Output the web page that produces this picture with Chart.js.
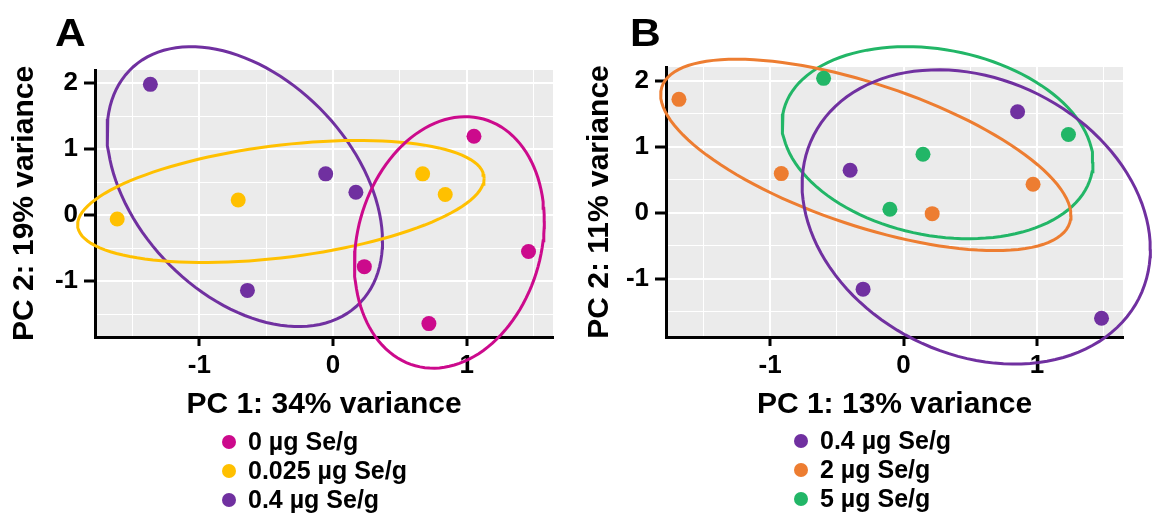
<!DOCTYPE html>
<html>
<head>
<meta charset="utf-8">
<script src="https://cdn.jsdelivr.net/npm/chart.js@4.4.0/dist/chart.umd.min.js"></script>
<style>
  body { margin: 0; background: #fff; width: 1156px; height: 514px; position: relative; overflow: hidden;
         font-family: "Liberation Sans", Arial, Helvetica, sans-serif; }
  .panel { position: absolute; top: 0; width: 578px; height: 514px; }
  .letter { position: absolute; top: 14px; font-weight: bold; font-size: 38px; line-height: 38px;
            transform: scaleX(1.12); transform-origin: left top; }
  .legend { position: absolute; font-weight: bold; font-size: 25px; }
  .legend .row { height: 29px; display: flex; align-items: center; white-space: nowrap; }
  .legend .dot { width: 14px; height: 14px; border-radius: 50%; margin-right: 12px; flex: none; }
</style>
</head>
<body>
<div class="panel" style="left:0"><canvas id="pcaA" width="578" height="514"></canvas></div>
<div class="panel" style="left:578px"><canvas id="pcaB" width="578" height="514"></canvas></div>
<div class="letter" style="left:55px">A</div>
<div class="letter" style="left:630px">B</div>
<div class="legend" id="legendA" style="left:222px; top:427px"></div>
<div class="legend" id="legendB" style="left:794px; top:426px"></div>
<script>
// panel A: 0 / 0.025 / 0.4 ug Se/g
const groupsA = ["0 µg Se/g", "0.025 µg Se/g", "0.4 µg Se/g"];
const pc1A = [
  [1.054, 1.462, 0.234, 0.717],
  [-1.614, -0.709, 0.670, 0.839],
  [-1.366, -0.055, 0.171, -0.640]
];
const pc2A = [
  [1.193, -0.553, -0.782, -1.645],
  [-0.060, 0.228, 0.624, 0.310],
  [1.980, 0.624, 0.345, -1.142]
];
// ellipse extents: [min, max] on each axis, plus tilt (cos of phase shift)
const ellXA = [[0.16, 1.58], [-1.91, 1.13], [-1.69, 0.37]];
const ellYA = [[-2.32, 1.49], [-0.72, 1.13], [-1.69, 2.55]];
const ellTiltA = [0.17, 0.38, -0.39];

// panel B: 0.4 / 2 / 5 ug Se/g
const groupsB = ["0.4 µg Se/g", "2 µg Se/g", "5 µg Se/g"];
const pc1B = [
  [-0.400, 0.855, -0.303, 1.484],
  [-1.683, -0.916, 0.215, 0.971],
  [-0.599, 0.146, -0.102, 1.236]
];
const pc2B = [
  [0.648, 1.534, -1.154, -1.595],
  [1.722, 0.597, -0.010, 0.435],
  [2.040, 0.891, 0.056, 1.190]
];
const ellXB = [[-0.76, 1.85], [-1.82, 1.255], [-0.91, 1.42]];
const ellYB = [[-2.29, 2.17], [-0.57, 2.33], [-0.39, 2.52]];
const ellTiltB = [-0.22, -0.63, -0.20];

const xGrid = [-1.5, -1, -0.5, 0, 0.5, 1, 1.5];
const yGrid = [-1.5, -1, -0.5, 0, 0.5, 1, 1.5, 2];

const colorsA = ["#CC0A8C", "#FFC000", "#7030A0"];
const colorsB = ["#7030A0", "#ED7D31", "#22B667"];

const FONT = '"Liberation Sans", Arial, Helvetica, sans-serif';
Chart.defaults.font.family = FONT;
Chart.defaults.color = "#000";

const panelBg = {
  id: "panelBg",
  beforeDraw(chart) {
    const { ctx, chartArea } = chart;
    ctx.save();
    ctx.fillStyle = "#EBEBEB";
    ctx.fillRect(chartArea.left, chartArea.top, chartArea.width, chartArea.height);
    ctx.restore();
  }
};

function ellipsePath(xr, yr, tilt) {
  const cx = (xr[0] + xr[1]) / 2, a = (xr[1] - xr[0]) / 2;
  const cy = (yr[0] + yr[1]) / 2, b = (yr[1] - yr[0]) / 2;
  const d = Math.acos(tilt);
  const pts = [];
  for (let i = 0; i <= 120; i++) {
    const t = (i / 120) * 2 * Math.PI;
    pts.push({ x: cx + a * Math.cos(t), y: cy + b * Math.cos(t - d) });
  }
  return pts;
}

function isMajor(v) { return Number.isInteger(v); }

function gridOpts(tickLen) {
  return {
    color: "#fff",
    lineWidth: (c) => (isMajor(c.tick.value) ? 2 : 1),
    tickLength: tickLen,
    tickWidth: 3,
    tickColor: (c) => (isMajor(c.tick.value) ? "#000" : "rgba(0,0,0,0)")
  };
}

function makePanel(id, cfg) {
  const datasets = [];
  cfg.groups.forEach((g, i) => {
    datasets.push({
      label: g,
      data: cfg.pc1[i].map((x, j) => ({ x: x, y: cfg.pc2[i][j] })),
      backgroundColor: cfg.colors[i],
      borderWidth: 0,
      pointRadius: 7.5,
      order: 0
    });
  });
  cfg.groups.forEach((g, i) => {
    datasets.push({
      label: g + " ellipse",
      data: ellipsePath(cfg.ellX[i], cfg.ellY[i], cfg.ellTilt[i]),
      showLine: true,
      pointRadius: 0,
      borderColor: cfg.colors[i],
      borderWidth: 3,
      fill: false,
      clip: false,
      order: 1
    });
  });

  const tickFont = { size: 26, weight: "bold" };
  const titleFont = { size: 30, weight: "bold" };

  new Chart(document.getElementById(id), {
    type: "scatter",
    data: { datasets: datasets },
    plugins: [panelBg],
    options: {
      responsive: false,
      animation: false,
      layout: { padding: { left: 0, top: cfg.top, right: cfg.right, bottom: 0 } },
      plugins: { legend: { display: false }, tooltip: { enabled: false } },
      scales: {
        x: {
          type: "linear",
          min: -1.78,
          max: 1.645,
          afterBuildTicks: (ax) => { ax.ticks = xGrid.map((v) => ({ value: v })); },
          afterFit: (s) => { s.height = cfg.xHeight; },
          ticks: {
            autoSkip: false, maxRotation: 0, padding: 4, color: "#000", font: tickFont,
            callback: (v) => (isMajor(v) ? String(v) : "")
          },
          grid: gridOpts(9),
          border: { display: true, color: "#000", width: 3 },
          title: { display: true, text: cfg.xTitle, color: "#000", font: titleFont,
                   padding: { top: 0, bottom: 91 } }
        },
        y: {
          type: "linear",
          min: cfg.yMin,
          max: cfg.yMax,
          afterBuildTicks: (ax) => { ax.ticks = yGrid.map((v) => ({ value: v })); },
          afterFit: (s) => { s.width = cfg.yWidth; },
          ticks: {
            autoSkip: false, padding: 6, color: "#000", font: tickFont,
            callback: (v) => (isMajor(v) ? String(v) : "")
          },
          grid: gridOpts(11),
          border: { display: true, color: "#000", width: 3 },
          title: { display: true, text: cfg.yTitle, color: "#000", font: titleFont,
                   padding: { top: cfg.yTitlePad, bottom: 0 } }
        }
      }
    }
  });
}

function makeLegend(id, groups, colors) {
  const box = document.getElementById(id);
  groups.forEach((g, i) => {
    const row = document.createElement("div");
    row.className = "row";
    const dot = document.createElement("span");
    dot.className = "dot";
    dot.style.background = colors[i];
    const txt = document.createElement("span");
    txt.textContent = g;
    row.appendChild(dot);
    row.appendChild(txt);
    box.appendChild(row);
  });
}

makePanel("pcaA", {
  groups: groupsA, pc1: pc1A, pc2: pc2A, colors: colorsA,
  ellX: ellXA, ellY: ellYA, ellTilt: ellTiltA,
  top: 70, right: 25, xHeight: 177, yWidth: 95, yMin: -1.848, yMax: 2.197, yTitlePad: 7,
  xTitle: "PC 1: 34% variance", yTitle: "PC 2: 19% variance"
});
makePanel("pcaB", {
  groups: groupsB, pc1: pc1B, pc2: pc2B, colors: colorsB,
  ellX: ellXB, ellY: ellYB, ellTilt: ellTiltB,
  top: 67, right: 33, xHeight: 177, yWidth: 88, yMin: -1.879, yMax: 2.212, yTitlePad: 4,
  xTitle: "PC 1: 13% variance", yTitle: "PC 2: 11% variance"
});
makeLegend("legendA", groupsA, colorsA);
makeLegend("legendB", groupsB, colorsB);
</script>
</body>
</html>
